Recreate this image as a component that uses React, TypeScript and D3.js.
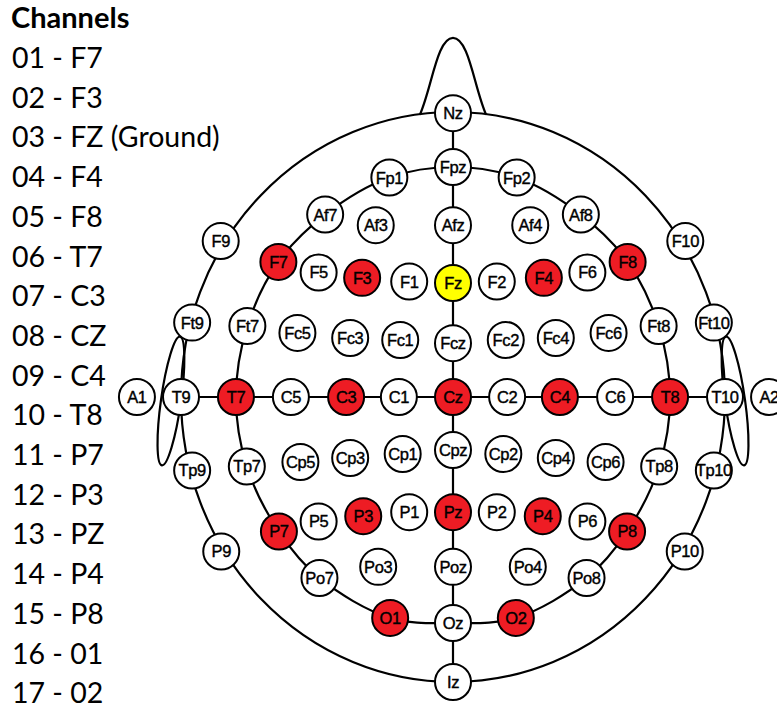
import * as d3 from 'd3';

// recorded channels, in legend order
const channels = [
  'F7', 'F3', 'FZ (Ground)', 'F4', 'F8', 'T7', 'C3', 'CZ', 'C4',
  'T8', 'P7', 'P3', 'PZ', 'P4', 'P8', '01', '02'
];

const activeSites = ['F7', 'F3', 'F4', 'F8', 'T7', 'C3', 'Cz', 'C4', 'T8', 'P7', 'P3', 'Pz', 'P4', 'P8', 'O1', 'O2'];
const groundSite = 'Fz';

// electrode positions in head units: Cz at 0,0, outer ring (Nz, T9, Iz, T10) at radius 1
const electrodes: [string, number, number][] = [
  ['Nz', 0, -0.996], ['Fpz', 0, -0.807], ['Fp1', -0.234, -0.77], ['Fp2', 0.234, -0.77],
  ['Af7', -0.47, -0.64], ['Af3', -0.284, -0.603], ['Afz', 0, -0.603], ['Af4', 0.284, -0.603], ['Af8', 0.47, -0.64],
  ['F9', -0.854, -0.547], ['F7', -0.642, -0.474], ['F5', -0.494, -0.437], ['F3', -0.334, -0.418], ['F1', -0.161, -0.405],
  ['Fz', 0, -0.4], ['F2', 0.161, -0.405], ['F4', 0.334, -0.418], ['F6', 0.494, -0.437], ['F8', 0.642, -0.474], ['F10', 0.854, -0.547],
  ['Ft9', -0.959, -0.261], ['Ft7', -0.756, -0.249], ['Fc5', -0.572, -0.225], ['Fc3', -0.378, -0.207], ['Fc1', -0.194, -0.2],
  ['Fcz', 0, -0.189], ['Fc2', 0.194, -0.2], ['Fc4', 0.378, -0.207], ['Fc6', 0.572, -0.225], ['Ft8', 0.756, -0.249], ['Ft10', 0.959, -0.261],
  ['A1', -1.162, 0], ['T9', -1.0, 0], ['T7', -0.798, 0], ['C5', -0.596, 0], ['C3', -0.393, 0], ['C1', -0.199, 0],
  ['Cz', 0, 0], ['C2', 0.199, 0], ['C4', 0.393, 0], ['C6', 0.596, 0], ['T8', 0.798, 0], ['T10', 1.0, 0], ['A2', 1.162, 0],
  ['Tp9', -0.959, 0.258], ['Tp7', -0.758, 0.244], ['Cp5', -0.561, 0.228], ['Cp3', -0.378, 0.214], ['Cp1', -0.185, 0.2],
  ['Cpz', 0, 0.186], ['Cp2', 0.185, 0.2], ['Cp4', 0.378, 0.214], ['Cp6', 0.561, 0.228], ['Tp8', 0.758, 0.244], ['Tp10', 0.959, 0.258],
  ['P9', -0.852, 0.542], ['P7', -0.64, 0.472], ['P5', -0.494, 0.437], ['P3', -0.33, 0.418], ['P1', -0.161, 0.404],
  ['Pz', 0, 0.404], ['P2', 0.161, 0.404], ['P4', 0.33, 0.418], ['P6', 0.494, 0.437], ['P8', 0.64, 0.472], ['P10', 0.852, 0.542],
  ['Po7', -0.491, 0.635], ['Po3', -0.275, 0.596], ['Poz', 0, 0.596], ['Po4', 0.275, 0.596], ['Po8', 0.491, 0.635],
  ['O1', -0.231, 0.775], ['Oz', 0, 0.793], ['O2', 0.231, 0.775],
  ['Iz', 0, 1.0]
];

const innerRing = ['Fpz', 'Fp2', 'Af8', 'F8', 'Ft8', 'T8', 'Tp8', 'P8', 'Po8', 'O2', 'Oz', 'O1', 'Po7', 'P7', 'Tp7', 'T7', 'Ft7', 'F7', 'Af7', 'Fp1'];
const midline = ['Nz', 'Iz'];
const coronal = ['T9', 'T10'];

const W = 777;
const H = 710;

export default function App() {
  const x = d3.scaleLinear().domain([-1, 1]).range([181, 725]);
  const y = d3.scaleLinear().domain([-1, 1]).range([112, 682]);
  const pos = new Map(electrodes.map(([n, ex, ey]) => [n, [x(ex), y(ey)] as [number, number]]));

  const ring = d3.line().curve(d3.curveCatmullRomClosed.alpha(0.5));
  const innerPath = ring(innerRing.map(n => pos.get(n)!)) || '';

  const cx = x(0);
  const cy = y(0);
  const rx = x(1) - cx;
  const ry = y(1) - cy;

  // nose bump on top of the outer ring
  const nL = x(-0.122), nR = x(0.122), nB = y(-0.99), nTop = y(-1.26);
  const nose = `M${nL},${nB} C${nL + 12},${nB - 27} ${cx - 16},${nTop} ${cx},${nTop} C${cx + 16},${nTop} ${nR - 12},${nB - 27} ${nR},${nB}`;

  const earX = 1.037 * rx;
  const earY = y(0.014);

  const fill = (n: string) => (n === groundSite ? '#ffff00' : activeSites.includes(n) ? '#ee1c24' : '#ffffff');

  const seg = (a: string, b: string) => {
    const [x1, y1] = pos.get(a)!;
    const [x2, y2] = pos.get(b)!;
    return <line x1={x1} y1={y1} x2={x2} y2={y2} />;
  };

  return (
    <svg width={W} height={H} style={{ position: 'absolute', left: 0, top: 0, background: '#fff' }}>
      <g fontFamily="Lato, 'Open Sans', sans-serif" fill="#000">
        <text x={11} y={28} fontSize={29} fontWeight="bold">Channels</text>
        {channels.map((c, i) => (
          <text key={c} x={12} y={68 + i * 39.7} fontSize={28.5}>
            {`${String(i + 1).padStart(2, '0')} - ${c}`}
          </text>
        ))}
      </g>
      <g fill="none" stroke="#000" strokeWidth={2.2}>
        <ellipse cx={cx} cy={cy} rx={rx} ry={ry} />
        <path d={nose} />
        <path d={innerPath} />
        <ellipse cx={0} cy={0} rx={10} ry={65} transform={`translate(${cx - earX},${earY}) rotate(8)`} />
        <ellipse cx={0} cy={0} rx={10} ry={65} transform={`translate(${cx + earX},${earY}) rotate(-8)`} />
        {seg(midline[0], midline[1])}
        {seg(coronal[0], coronal[1])}
      </g>
      <g>
        {electrodes.map(([n]) => {
          const [ex, ey] = pos.get(n)!;
          return (
            <g key={n} transform={`translate(${ex},${ey})`}>
              <circle r={18} fill={fill(n)} stroke="#000" strokeWidth={2} />
              <text
                textAnchor="middle"
                dy="0.36em"
                fontFamily="'Liberation Sans', Arial, sans-serif"
                fontSize={16.5}
                letterSpacing={-0.4}
                fill="#000"
                stroke="#000"
                strokeWidth={0.4}
              >
                {n}
              </text>
            </g>
          );
        })}
      </g>
    </svg>
  );
}
